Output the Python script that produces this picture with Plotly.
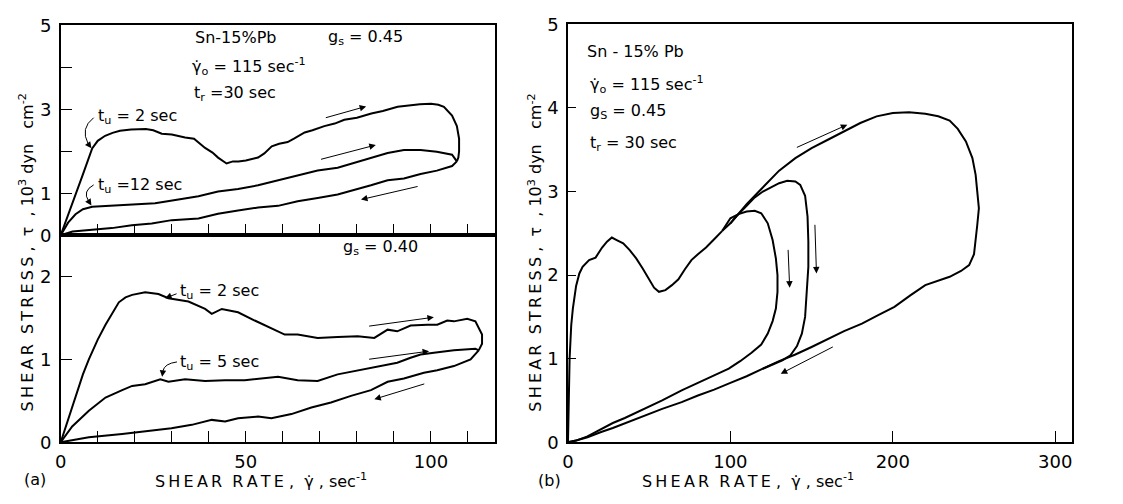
import plotly.graph_objects as go

W, H = 1123, 504

# ---------------- data: panel (a) top, g_s = 0.45 ----------------
a1_tu2_x = [0, 1, 2, 3, 4.5, 6, 8.5, 10, 12, 14, 16, 19, 23, 25, 27.3, 30, 33.6, 36, 39, 41, 42.5, 44.8, 46.5, 48, 50,
            53.3, 55, 57, 59, 61.3, 63, 65.9, 68, 71.2, 74, 76.6, 80, 83.9, 87, 91, 94, 97, 100, 102, 103.5, 105.7,
            107, 107.6, 107.6, 107.4, 107]
a1_tu2_y = [0, 0.25, 0.5, 0.75, 1.1, 1.45, 2.07, 2.25, 2.37, 2.44, 2.49, 2.52, 2.53, 2.50, 2.42, 2.40, 2.33, 2.30, 2.08,
            1.97, 1.85, 1.71, 1.76, 1.76, 1.78, 1.85, 1.95, 2.12, 2.18, 2.22, 2.30, 2.45, 2.50, 2.60, 2.66, 2.75, 2.80,
            2.90, 2.96, 3.06, 3.09, 3.12, 3.13, 3.11, 3.06, 2.85, 2.6, 2.3, 2.0, 1.85, 1.76]
a1_tu12_x = [0, 2, 4, 6, 8.5, 12.1, 16.6, 21, 25.5, 31.8, 37.2, 42.5, 47.9, 53.3, 58.7, 64, 69.4, 74.8, 79.3, 83.8,
             88.3, 92.7, 97.2, 101.6, 105.7, 107]
a1_tu12_y = [0, 0.3, 0.5, 0.62, 0.68, 0.70, 0.72, 0.74, 0.76, 0.85, 0.93, 1.04, 1.10, 1.19, 1.31, 1.42, 1.54, 1.61,
             1.73, 1.84, 1.96, 2.03, 2.03, 1.99, 1.92, 1.76]
a1_ret_x = [107, 105.7, 101.6, 97.2, 92.7, 88.3, 83.8, 79.3, 74.8, 69.4, 64, 58.7, 53.3, 47.9, 42.5, 37.2, 30, 24.6,
            19.2, 13.8, 8.5, 3.2, 0]
a1_ret_y = [1.76, 1.65, 1.54, 1.46, 1.35, 1.31, 1.19, 1.08, 0.97, 0.89, 0.81, 0.70, 0.66, 0.59, 0.51, 0.40, 0.36, 0.28,
            0.24, 0.17, 0.13, 0.09, 0]

# ---------------- data: panel (a) bottom, g_s = 0.40 ----------------
a2_tu2_x = [0, 2, 4, 6, 7.6, 10, 12.1, 14, 15.7, 17.5, 19.3, 22.8, 26.4, 29.1, 34.5, 39, 40.8, 43.5, 47.9, 52.4, 56.9,
            60.5, 64, 69.4, 74.8, 80.2, 84.7, 88.3, 90.9, 94.5, 99, 101.7, 104.4, 106.2, 109.8, 112, 113.8, 113.8,
            112.9]
a2_tu2_y = [0, 0.28, 0.55, 0.82, 1.0, 1.24, 1.42, 1.57, 1.69, 1.75, 1.78, 1.81, 1.79, 1.74, 1.70, 1.61, 1.55, 1.61,
            1.57, 1.47, 1.38, 1.30, 1.30, 1.26, 1.27, 1.28, 1.26, 1.36, 1.34, 1.41, 1.42, 1.42, 1.47, 1.46, 1.49, 1.46,
            1.30, 1.19, 1.11]
a2_tu5_x = [0, 3.1, 7.6, 12.1, 16.6, 19.3, 22.8, 26.9, 29.1, 33.6, 39, 44.4, 49.7, 55.1, 58.7, 64, 69.4, 74.8, 80.2,
            85.6, 90.9, 94.5, 97.2, 100.8, 106.2, 112, 112.9]
a2_tu5_y = [0, 0.19, 0.38, 0.54, 0.63, 0.68, 0.70, 0.76, 0.73, 0.76, 0.74, 0.75, 0.75, 0.77, 0.79, 0.75, 0.74, 0.82,
            0.87, 0.92, 0.96, 1.02, 1.06, 1.08, 1.11, 1.13, 1.11]
a2_ret_x = [112.9, 110.7, 106.2, 101.7, 98.1, 92.7, 88.3, 83.8, 78.4, 73, 67.7, 62.3, 56.9, 53.3, 47.9, 44.4, 40.8,
            35.4, 29.9, 22.8, 16.6, 7.6, 0]
a2_ret_y = [1.11, 1.0, 0.92, 0.87, 0.84, 0.77, 0.73, 0.63, 0.56, 0.48, 0.42, 0.34, 0.29, 0.31, 0.29, 0.25, 0.27, 0.21,
            0.17, 0.13, 0.10, 0.06, 0]

# ---------------- data: panel (b) ----------------
b_init_x = [0, 0.5, 1, 2, 3, 5, 7, 9, 13, 17, 21, 24, 27, 30, 34, 38, 42, 46, 50, 53, 56, 60, 64, 68, 72, 76, 80, 85,
            90, 95]
b_init_y = [0, 0.5, 1.0, 1.4, 1.6, 1.87, 2.02, 2.1, 2.18, 2.21, 2.33, 2.40, 2.45, 2.42, 2.38, 2.30, 2.20, 2.08, 1.95,
            1.85, 1.80, 1.82, 1.88, 1.95, 2.07, 2.18, 2.25, 2.33, 2.43, 2.53]
b_big_x = [95, 100, 110, 120, 130, 140, 150, 160, 170, 180, 190, 200, 210, 220, 228, 235, 240, 245, 249, 251, 252,
           253, 252, 251, 250, 247, 242, 235, 228, 220, 211, 201, 191, 181, 170, 160, 150, 140, 130, 120, 110, 100,
           90, 80, 70, 58, 45, 35, 27.6, 20, 12, 5, 0]
b_big_y = [2.53, 2.62, 2.85, 3.05, 3.25, 3.40, 3.52, 3.62, 3.72, 3.82, 3.90, 3.94, 3.95, 3.93, 3.90, 3.85, 3.75, 3.60,
           3.40, 3.20, 3.00, 2.80, 2.60, 2.40, 2.25, 2.12, 2.05, 1.98, 1.93, 1.88, 1.76, 1.62, 1.52, 1.42, 1.33, 1.23,
           1.14, 1.05, 0.97, 0.88, 0.79, 0.71, 0.63, 0.56, 0.48, 0.40, 0.30, 0.23, 0.17, 0.12, 0.06, 0.02, 0]
b_mid_x = [100, 104, 110, 115, 120, 125, 130, 135, 140, 143, 146, 147.5, 148, 148, 147, 146, 144, 141, 137, 132, 126,
           120]
b_mid_y = [2.62, 2.71, 2.83, 2.93, 3.00, 3.05, 3.10, 3.13, 3.12, 3.08, 2.95, 2.70, 2.40, 2.10, 1.80, 1.50, 1.30, 1.15,
           1.04, 0.98, 0.93, 0.88]
b_small_x = [95, 98, 100, 105, 110, 115, 119, 123, 126, 128, 129, 129, 128, 126, 123, 119, 113, 106, 99, 90, 80, 70,
             58, 45, 35, 27.6, 20, 12, 5, 0]
b_small_y = [2.53, 2.62, 2.68, 2.73, 2.76, 2.77, 2.74, 2.62, 2.42, 2.20, 2.00, 1.80, 1.60, 1.45, 1.30, 1.17, 1.07,
             0.97, 0.88, 0.80, 0.71, 0.62, 0.50, 0.38, 0.29, 0.23, 0.15, 0.07, 0.02, 0]

FONT = "DejaVu Sans"
fig = go.Figure()


def curve(x, y, xa, ya):
    fig.add_trace(go.Scatter(x=x, y=y, mode="lines", line=dict(color="black", width=2),
                             xaxis=xa, yaxis=ya, showlegend=False, hoverinfo="skip"))


curve(a1_tu2_x, a1_tu2_y, "x", "y")
curve(a1_tu12_x, a1_tu12_y, "x", "y")
curve(a1_ret_x, a1_ret_y, "x", "y")
curve(a2_tu2_x, a2_tu2_y, "x2", "y2")
curve(a2_tu5_x, a2_tu5_y, "x2", "y2")
curve(a2_ret_x, a2_ret_y, "x2", "y2")
curve(b_init_x, b_init_y, "x3", "y3")
curve(b_big_x, b_big_y, "x3", "y3")
curve(b_mid_x, b_mid_y, "x3", "y3")
curve(b_small_x, b_small_y, "x3", "y3")


def ax_common(**kw):
    d = dict(showline=True, mirror=True, linecolor="black", linewidth=1.5, showgrid=False, zeroline=False,
             ticks="inside", tickcolor="black", tickwidth=1.3, ticklen=12,
             tickfont=dict(family=FONT, size=18, color="black"))
    d.update(kw)
    return d


xa_dom = [55 / W, 492 / W]
xb_dom = [565 / W, 1072 / W]
fig.update_layout(
    width=W, height=H, margin=dict(l=0, r=0, t=0, b=0),
    paper_bgcolor="white", plot_bgcolor="white",
    font=dict(family=FONT, color="black"),
    xaxis=ax_common(domain=xa_dom, range=[0, 117.4], anchor="y", tickvals=list(range(10, 120, 10)),
                    showticklabels=False),
    yaxis=ax_common(domain=[1 - 234 / H, 1 - 15 / H], range=[0, 5], anchor="x",
                    tickvals=[0, 1, 2, 3, 4, 5], ticktext=["0", "1", "", "3", "", "5"], ticklabelstandoff=4),
    xaxis2=ax_common(domain=xa_dom, range=[0, 117.4], anchor="y2", tickvals=list(range(0, 120, 10)),
                     ticktext=["0", "", "", "", "", "50", "", "", "", "", "100", ""], ticklabelstandoff=2),
    yaxis2=ax_common(domain=[1 - 450 / H, 1 - 234 / H], range=[0, 2.5], anchor="x2",
                     tickvals=[0, 1, 2], ticktext=["0", "1", "2"], ticklabelstandoff=4),
    xaxis3=ax_common(domain=xb_dom, range=[0, 310.5], anchor="y3", tickvals=[0, 100, 200, 300],
                     ticktext=["0", "100", "200", "300"], ticklabelstandoff=2),
    yaxis3=ax_common(domain=[1 - 450 / H, 1 - 14 / H], range=[0, 5], anchor="x3",
                     tickvals=[0, 1, 2, 3, 4, 5], ticktext=["0", "1", "2", "3", "4", "5"], ticklen=8,
                     ticklabelstandoff=4),
)

T = "\u2009"


def sp(s):
    return T.join(list(s))


ann = []


def text(px, py, s, size=16, xanchor="left", angle=0):
    ann.append(dict(x=px / W, y=1 - py / H, xref="paper", yref="paper", text=s, showarrow=False,
                    xanchor=xanchor, yanchor="middle", textangle=angle,
                    font=dict(family=FONT, size=size, color="black")))


def arrow(xa, ya, x0, y0, x1, y1, head=2):
    ann.append(dict(x=x1, y=y1, ax=x0, ay=y0, xref=xa, yref=ya, axref=xa, ayref=ya, text="",
                    showarrow=True, arrowhead=head, arrowsize=1.3, arrowwidth=1, arrowcolor="black"))


# panel (a) top annotations
text(188, 28, "Sn-15%Pb")
text(322, 28, "g<sub>s</sub> = 0.45")
text(185, 58, "γ\u0307<sub>o</sub> = 115 sec<sup>-1</sup>")
text(187, 86, "t<sub>r</sub> =30 sec")
text(90, 110, "t<sub>u</sub> = 2 sec")
text(90, 182, "t<sub>u</sub> =12 sec")
# panel (a) bottom
text(337, 247, "g<sub>s</sub> = 0.40")
text(173, 293, "t<sub>u</sub> = 2 sec")
text(173, 367, "t<sub>u</sub> = 5 sec")
# panel (b)
text(582, 42, "Sn - 15% Pb")
text(585, 77, "γ\u0307<sub>o</sub> = 115 sec<sup>-1</sup>")
text(585, 105, "g<sub>S</sub> = 0.45")
text(585, 138, "t<sub>r</sub> = 30 sec")

# axis titles
xtitle = sp("SHEAR") + "  " + sp("RATE") + " ,  γ\u0307 , sec<sup>-1</sup>"
ytitle = sp("SHEAR") + "  " + sp("STRESS") + " ,  τ  , 10<sup>3</sup> dyn   cm<sup>-2</sup>"
text(256, 490, xtitle, xanchor="center")
text(746, 490, xtitle, xanchor="center")
text(21, 252, ytitle, xanchor="center", angle=-90)
text(532, 252, ytitle, xanchor="center", angle=-90)
text(16, 489, "(a)", xanchor="left")
text(533, 490, "(b)", xanchor="left")

# flow-direction arrows, panel (a) top
arrow("x", "y", 71.2, 2.79, 82.5, 3.07)
arrow("x", "y", 69.9, 1.80, 85.1, 2.15)
arrow("x", "y", 96.8, 1.17, 81.1, 0.85)
# panel (a) bottom
arrow("x2", "y2", 82.9, 1.40, 100.8, 1.51)
arrow("x2", "y2", 82.9, 1.00, 99.5, 1.10)
arrow("x2", "y2", 98.6, 0.71, 84.7, 0.52)
# panel (b)
arrow("x3", "y3", 140, 3.52, 172, 3.80)
arrow("x3", "y3", 135.5, 2.32, 136.5, 1.85)
arrow("x3", "y3", 152, 2.62, 153, 2.02)
arrow("x3", "y3", 164, 1.15, 131, 0.82)

# label pointers (curved ones drawn as paths + short arrowheads)
shapes = [
    dict(type="path", xref="x", yref="y", path="M 8.9 2.80 Q 5.2 2.55 7.4 2.18",
         line=dict(color="black", width=1)),
    dict(type="path", xref="x", yref="y", path="M 8.9 1.20 Q 5.8 1.05 7.5 0.82",
         line=dict(color="black", width=1)),
    dict(type="path", xref="x2", yref="y2", path="M 31.4 0.97 Q 28.0 0.95 27.6 0.86",
         line=dict(color="black", width=1)),
]
arrow("x", "y", 7.4, 2.18, 8.3, 2.07)
arrow("x", "y", 7.5, 0.82, 8.3, 0.71)
arrow("x2", "y2", 27.6, 0.86, 27.4, 0.79)
arrow("x2", "y2", 31.7, 1.80, 28.2, 1.74)

fig.update_layout(annotations=ann, shapes=shapes)
fig.write_html("out.html")
